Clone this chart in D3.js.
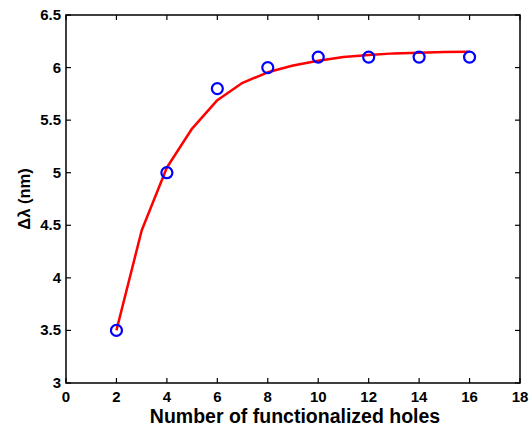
<!DOCTYPE html>
<html lang="en">
<head>
<meta charset="UTF-8">
<script src="https://d3js.org/d3.v7.min.js"></script>
<style>
  body { margin: 0; background: #fff; }
  svg { display: block; }
  text { font-family: Arial, "Liberation Sans", sans-serif; font-weight: bold; fill: #000; }
</style>
</head>
<body>
<svg id="chart" width="531" height="428"></svg>
<script>
// measured points
const holes = [2, 4, 6, 8, 10, 12, 14, 16];
const shift = [3.5, 5.0, 5.8, 6.0, 6.1, 6.1, 6.1, 6.1];

// fitted curve
const fitX = [2, 3, 4, 5, 6, 7, 8, 9, 10, 11, 12, 13, 14, 15, 16];
const fitY = [3.5, 4.45, 5.05, 5.42, 5.69, 5.855, 5.955, 6.02, 6.065, 6.1, 6.12, 6.135, 6.14, 6.147, 6.15];

const xTicks = [0, 2, 4, 6, 8, 10, 12, 14, 16, 18];
const yTicks = [3, 3.5, 4, 4.5, 5, 5.5, 6, 6.5];

const svg = d3.select("#chart");
const m = { left: 66, right: 520, top: 15, bottom: 383 };

const x = d3.scaleLinear().domain([0, 18]).range([m.left, m.right]);
const y = d3.scaleLinear().domain([3, 6.5]).range([m.bottom, m.top]);

// box
svg.append("rect")
  .attr("x", m.left).attr("y", m.top)
  .attr("width", m.right - m.left).attr("height", m.bottom - m.top)
  .attr("fill", "none").attr("stroke", "#000").attr("stroke-width", 1.5);

const tickLen = 5;
const g = svg.append("g").attr("stroke", "#000").attr("stroke-width", 1.2);
xTicks.forEach(t => {
  g.append("line").attr("x1", x(t)).attr("x2", x(t)).attr("y1", m.bottom).attr("y2", m.bottom - tickLen);
  g.append("line").attr("x1", x(t)).attr("x2", x(t)).attr("y1", m.top).attr("y2", m.top + tickLen);
});
yTicks.forEach(t => {
  g.append("line").attr("x1", m.left).attr("x2", m.left + tickLen).attr("y1", y(t)).attr("y2", y(t));
  g.append("line").attr("x1", m.right).attr("x2", m.right - tickLen).attr("y1", y(t)).attr("y2", y(t));
});

svg.append("g").selectAll("text").data(xTicks).join("text")
  .attr("x", d => x(d)).attr("y", m.bottom + 19)
  .attr("text-anchor", "middle").attr("font-size", 15)
  .text(d => d);

svg.append("g").selectAll("text").data(yTicks).join("text")
  .attr("x", m.left - 5).attr("y", d => y(d) + 5)
  .attr("text-anchor", "end").attr("font-size", 15)
  .text(d => d);

// axis labels
svg.append("text")
  .attr("x", 295).attr("y", 423)
  .attr("text-anchor", "middle").attr("font-size", 19.5)
  .text("Number of functionalized holes");

svg.append("text")
  .attr("transform", `translate(30,${(m.top + m.bottom) / 2}) rotate(-90)`)
  .attr("text-anchor", "middle").attr("font-size", 16.5)
  .text("Δλ (nm)");

// fit line
const line = d3.line().x((d, i) => x(fitX[i])).y(d => y(d));
svg.append("path")
  .datum(fitY)
  .attr("d", line)
  .attr("fill", "none").attr("stroke", "#ff0000").attr("stroke-width", 2.5)
  .attr("stroke-linejoin", "round");

// markers
svg.append("g").selectAll("circle").data(shift).join("circle")
  .attr("cx", (d, i) => x(holes[i])).attr("cy", d => y(d))
  .attr("r", 5.5)
  .attr("fill", "none").attr("stroke", "#0000ff").attr("stroke-width", 2.2);
</script>
</body>
</html>
